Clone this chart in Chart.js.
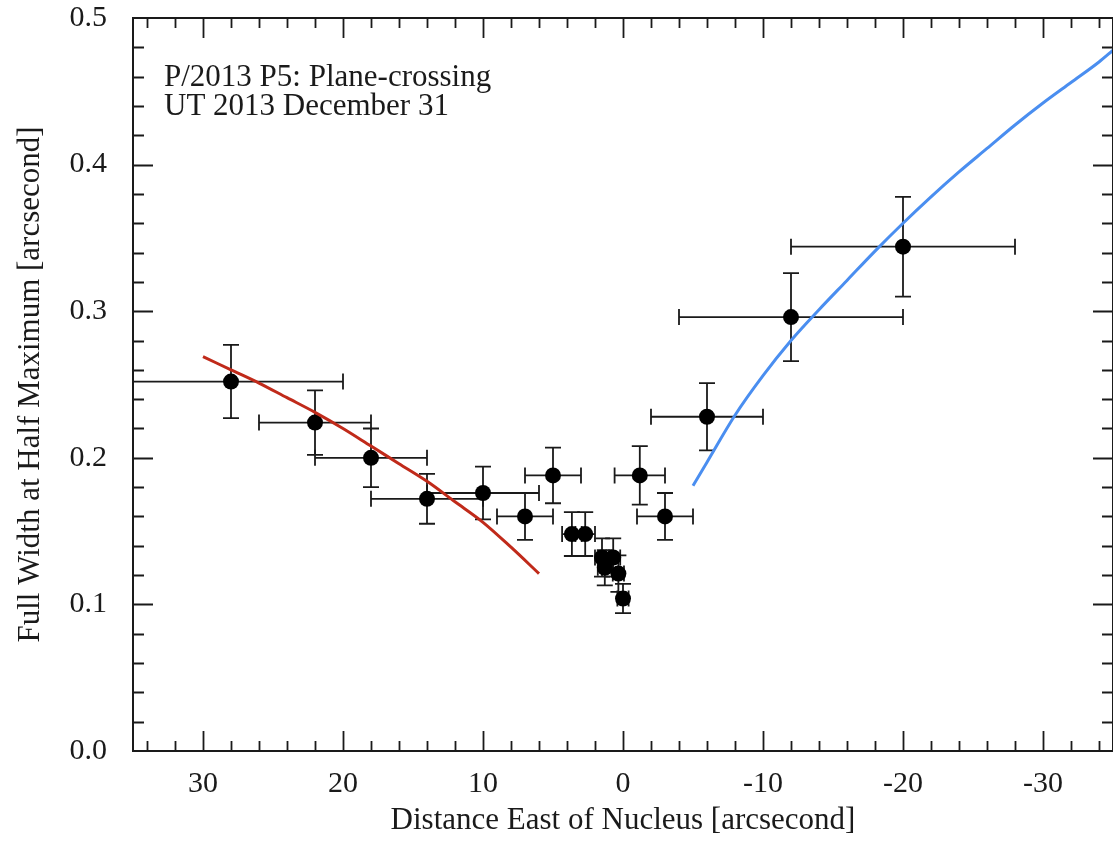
<!DOCTYPE html>
<html>
<head>
<meta charset="utf-8">
<script src="https://cdn.jsdelivr.net/npm/chart.js@4/dist/chart.umd.min.js"></script>
<style>
  html, body { margin: 0; padding: 0; background: #ffffff; }
  #wrap { width: 1113px; height: 841px; position: relative; }
</style>
</head>
<body>
<div id="wrap"><canvas id="c" width="1113" height="841"></canvas></div>
<script>
// ---- data ----
const xVals = [28, 22, 18, 14, 10, 7, 5, 3.65, 2.7, 1.5, 1.3, 0.7, 0.33, 0, -1.2, -3, -6, -12, -20];
const yVals = [0.252, 0.224, 0.200, 0.172, 0.176, 0.160, 0.188, 0.148, 0.148, 0.132, 0.125, 0.132, 0.121, 0.104, 0.188, 0.160, 0.228, 0.296, 0.344];
const xErr  = [8, 4, 4, 4, 4, 2, 2, 0.7, 0.7, 0.5, 0.5, 0.5, 0.4, 0.4, 1.8, 2, 4, 8, 8];
const yErr  = [0.025, 0.022, 0.020, 0.017, 0.018, 0.016, 0.019, 0.015, 0.015, 0.013, 0.012, 0.013, 0.0125, 0.010, 0.020, 0.016, 0.023, 0.030, 0.034];

const redX = [30, 28, 26, 24, 22, 20, 18, 16, 14, 12, 10, 8, 6];
const redY = [0.269, 0.260, 0.251, 0.241, 0.231, 0.220, 0.208, 0.196, 0.184, 0.170, 0.156, 0.139, 0.121];

const blueX = [-5, -6, -8, -10, -12, -14, -16, -18, -20, -22, -24, -26, -28, -30, -32, -34, -35];
const blueY = [0.181, 0.197, 0.229, 0.256, 0.280, 0.301, 0.321, 0.341, 0.360, 0.378, 0.395, 0.411, 0.427, 0.442, 0.456, 0.470, 0.478];

const xMajorTicks = [30, 20, 10, 0, -10, -20, -30];
const yMajorTicks = [0.0, 0.1, 0.2, 0.3, 0.4, 0.5];

const titleLines = ['P/2013 P5: Plane-crossing', 'UT 2013 December 31'];
const xTitle = 'Distance East of Nucleus [arcsecond]';
const yTitle = 'Full Width at Half Maximum [arcsecond]';

// ---- build datasets ----
const pts = xVals.map((x, i) => ({ x: x, y: yVals[i], xe: xErr[i], ye: yErr[i] }));
const red = redX.map((x, i) => ({ x: x, y: redY[i] }));
const blue = blueX.map((x, i) => ({ x: x, y: blueY[i] }));

const FONT = "'Liberation Serif', 'DejaVu Serif', serif";
const INK = '#1a1a1a';

const errorBarPlugin = {
  id: 'errbars',
  beforeDatasetsDraw(chart) {
    const ctx = chart.ctx, xs = chart.scales.x, ys = chart.scales.y, a = chart.chartArea;
    ctx.save();
    ctx.beginPath();
    ctx.rect(a.left, a.top, a.right - a.left, a.bottom - a.top);
    ctx.clip();
    ctx.strokeStyle = INK;
    ctx.lineWidth = 1.8;
    const cap = 8;
    pts.forEach(p => {
      const px = xs.getPixelForValue(p.x), py = ys.getPixelForValue(p.y);
      const xl = xs.getPixelForValue(p.x + p.xe), xr = xs.getPixelForValue(p.x - p.xe);
      const yt = ys.getPixelForValue(p.y + p.ye), yb = ys.getPixelForValue(p.y - p.ye);
      ctx.beginPath();
      ctx.moveTo(xl, py); ctx.lineTo(xr, py);
      ctx.moveTo(xl, py - cap); ctx.lineTo(xl, py + cap);
      ctx.moveTo(xr, py - cap); ctx.lineTo(xr, py + cap);
      ctx.moveTo(px, yt); ctx.lineTo(px, yb);
      ctx.moveTo(px - cap, yt); ctx.lineTo(px + cap, yt);
      ctx.moveTo(px - cap, yb); ctx.lineTo(px + cap, yb);
      ctx.stroke();
    });
    ctx.restore();
  }
};

const framePlugin = {
  id: 'frame',
  afterDraw(chart) {
    const ctx = chart.ctx, xs = chart.scales.x, ys = chart.scales.y, a = chart.chartArea;
    ctx.save();
    ctx.strokeStyle = INK;
    ctx.lineWidth = 2;
    ctx.strokeRect(a.left, a.top, a.right - a.left, a.bottom - a.top);
    ctx.lineWidth = 1.8;
    ctx.beginPath();
    // x ticks every 2, major every 10
    for (let v = -34; v <= 34; v += 2) {
      const px = Math.round(xs.getPixelForValue(v)) + 0.5;
      const len = (v % 10 === 0) ? 20 : 10;
      ctx.moveTo(px, a.bottom); ctx.lineTo(px, a.bottom - len);
      ctx.moveTo(px, a.top); ctx.lineTo(px, a.top + len);
    }
    // y ticks every 0.02, major every 0.1
    for (let k = 1; k < 25; k++) {
      const v = k * 0.02;
      const py = Math.round(ys.getPixelForValue(v)) + 0.5;
      const len = (k % 5 === 0) ? 20 : 11;
      ctx.moveTo(a.left, py); ctx.lineTo(a.left + len, py);
      ctx.moveTo(a.right, py); ctx.lineTo(a.right - len, py);
    }
    ctx.stroke();
    // annotation text
    ctx.fillStyle = INK;
    ctx.font = "31px " + FONT;
    ctx.textBaseline = 'alphabetic';
    ctx.textAlign = 'left';
    titleLines.forEach((t, i) => ctx.fillText(t, 164, 86 + i * 29));
    ctx.restore();
  }
};

function zeroPad(s) { s.paddingLeft = 0; s.paddingRight = 0; s.paddingTop = 0; s.paddingBottom = 0; }

new Chart(document.getElementById('c'), {
  type: 'scatter',
  data: {
    datasets: [
      { label: 'data', data: pts, parsing: false, showLine: false,
        pointRadius: 8, pointHoverRadius: 8, pointBackgroundColor: '#000', pointBorderColor: '#000', pointBorderWidth: 0, order: 2 },
      { label: 'red', data: red, showLine: true, borderColor: '#c02a1a', borderWidth: 3, pointRadius: 0, cubicInterpolationMode: 'monotone', fill: false, order: 1 },
      { label: 'blue', data: blue, showLine: true, borderColor: '#4a8ef0', borderWidth: 3, pointRadius: 0, cubicInterpolationMode: 'monotone', fill: false, order: 1 }
    ]
  },
  options: {
    responsive: false,
    animation: false,
    events: [],
    layout: { autoPadding: false, padding: { top: 18, right: 0, left: 0, bottom: 0 } },
    plugins: { legend: { display: false }, tooltip: { enabled: false } },
    scales: {
      x: {
        type: 'linear', reverse: true, min: -35, max: 35,
        afterFit(s) { s.height = 90; zeroPad(s); },
        afterBuildTicks(s) { s.ticks = xMajorTicks.map(v => ({ value: v })); },
        grid: { display: false, drawTicks: false },
        border: { display: false },
        ticks: { color: INK, font: { family: FONT, size: 30 }, padding: 15, maxRotation: 0, autoSkip: false,
          callback: v => String(Math.round(v)) },
        title: { display: true, text: xTitle, color: INK, font: { family: FONT, size: 31 }, padding: { top: 0, bottom: 2 } }
      },
      y: {
        type: 'linear', min: 0, max: 0.5,
        afterFit(s) { s.width = 133; zeroPad(s); },
        afterBuildTicks(s) { s.ticks = yMajorTicks.map(v => ({ value: v })); },
        grid: { display: false, drawTicks: false },
        border: { display: false },
        ticks: { color: INK, font: { family: FONT, size: 30 }, padding: 26,
          callback: v => v.toFixed(1) },
        title: { display: true, text: yTitle, color: INK, font: { family: FONT, size: 31 }, padding: { top: 12, bottom: 0 } }
      }
    }
  },
  plugins: [errorBarPlugin, framePlugin]
});
</script>
</body>
</html>
